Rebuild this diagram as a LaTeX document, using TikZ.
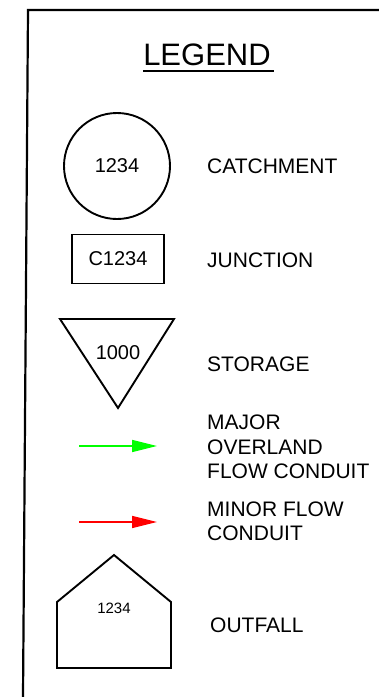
\documentclass[tikz,border=0pt]{standalone}
\usepackage{fontspec}
\setmainfont{Liberation Sans}
\usetikzlibrary{arrows.meta}
\definecolor{majorgreen}{RGB}{0,255,0}
\definecolor{minorred}{RGB}{255,0,0}
\tikzset{
  lbl/.style={anchor=west, inner sep=0pt, align=left, font=\fontsize{21}{24.5}\selectfont},
  sym/.style={draw, line width=1.9pt},
  num/.style={inner sep=0pt, font=\fontsize{20}{24}\selectfont},
  flow/.style={line width=1.6pt, -{Triangle[length=25pt,width=12pt]}}
}
\begin{document}
\begin{tikzpicture}[x=1pt,y=-1pt]
  \useasboundingbox (0,0) rectangle (379,697);
  % frame
  \draw[line width=2.2pt] (23,697) -- (28,10) -- (379,10);
  \node[inner sep=0pt, anchor=south, font=\fontsize{31}{35}\selectfont] (legend) at (207,66) {LEGEND};
  \draw[line width=1.6pt] ([yshift=-5pt]legend.south west) -- ([yshift=-5pt,xshift=3pt]legend.south east);

  % symbols
  \node[sym, num, circle, minimum size=106pt] (catch) at (117,166) {1234};
  \node[sym, num, minimum width=92pt, minimum height=49pt] (junc) at (118,259) {C1234};
  \draw[sym] (60,319) -- (174,319) -- (118,408) -- cycle;
  \node[num] (stor) at (118,353) {1000};
  \coordinate (maj0) at (79,446);
  \coordinate (maj1) at (157,446);
  \draw[flow, majorgreen] (maj0) -- (maj1);
  \coordinate (min0) at (79,522);
  \coordinate (min1) at (157,522);
  \draw[flow, minorred] (min0) -- (min1);
  \draw[sym] (57,668) -- (57,602) -- (114,555) -- (171,602) -- (171,668) -- cycle;
  \node[inner sep=0pt, font=\fontsize{15}{18}\selectfont] (out) at (114,608) {1234};

  % labels
  \node[lbl] (catchlbl) at (207,166.5) {CATCHMENT};
  \node[lbl] (junclbl) at (207,260) {JUNCTION};
  \node[lbl] (storlbl) at (207,364) {STORAGE};
  \node[lbl] (majlbl) at (207,447) {MAJOR\\OVERLAND\\FLOW CONDUIT};
  \node[lbl] (minlbl) at (207,521.5) {MINOR FLOW\\CONDUIT};
  \node[lbl] (outlbl) at (210,625) {OUTFALL};
\end{tikzpicture}
\end{document}
